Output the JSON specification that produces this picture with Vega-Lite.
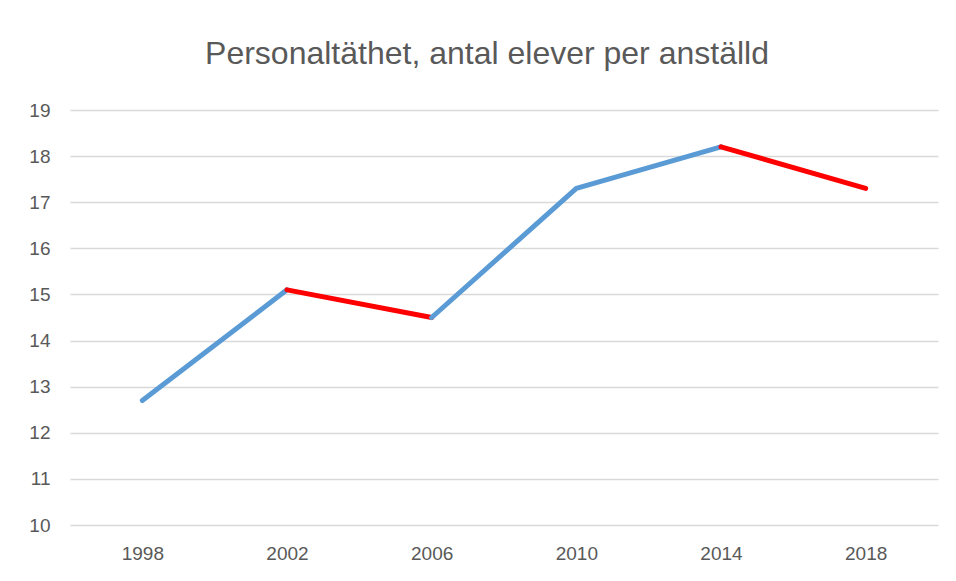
{
  "$schema": "https://vega.github.io/schema/vega-lite/v6.json",
  "width": 868,
  "height": 415,
  "autosize": "none",
  "padding": {"left": 70, "top": 110, "right": 18, "bottom": 56},
  "background": "white",
  "title": {
    "text": "Personaltäthet, antal elever per anställd",
    "font": "Liberation Sans",
    "fontSize": 32,
    "fontWeight": "normal",
    "color": "#595959",
    "anchor": "middle",
    "frame": "group",
    "dx": -17,
    "offset": 30
  },
  "data": {
    "values": [
      {"year": "1998", "value": 12.7, "seg": 1, "kind": "up"},
      {"year": "2002", "value": 15.1, "seg": 1, "kind": "up"},
      {"year": "2002", "value": 15.1, "seg": 2, "kind": "down"},
      {"year": "2006", "value": 14.5, "seg": 2, "kind": "down"},
      {"year": "2006", "value": 14.5, "seg": 3, "kind": "up"},
      {"year": "2010", "value": 17.3, "seg": 3, "kind": "up"},
      {"year": "2014", "value": 18.2, "seg": 3, "kind": "up"},
      {"year": "2014", "value": 18.2, "seg": 4, "kind": "down"},
      {"year": "2018", "value": 17.3, "seg": 4, "kind": "down"}
    ]
  },
  "mark": {"type": "line", "strokeWidth": 5, "strokeCap": "round", "strokeJoin": "round"},
  "encoding": {
    "x": {
      "field": "year",
      "type": "ordinal",
      "scale": {"type": "point", "padding": 0.5},
      "axis": {
        "title": null,
        "labelAngle": 0,
        "grid": false,
        "domain": false,
        "ticks": false,
        "labelPadding": 19,
        "labelFont": "Liberation Sans",
        "labelFontSize": 19,
        "labelColor": "#595959"
      }
    },
    "y": {
      "field": "value",
      "type": "quantitative",
      "scale": {"domain": [10, 19], "nice": false, "zero": false},
      "axis": {
        "title": null,
        "values": [10, 11, 12, 13, 14, 15, 16, 17, 18, 19],
        "grid": true,
        "gridColor": "#d9d9d9",
        "gridWidth": 1.5,
        "domain": false,
        "ticks": false,
        "labelPadding": 20,
        "labelFont": "Liberation Sans",
        "labelFontSize": 19,
        "labelColor": "#595959"
      }
    },
    "detail": {"field": "seg"},
    "color": {
      "field": "kind",
      "type": "nominal",
      "scale": {"domain": ["up", "down"], "range": ["#5B9BD5", "#FF0000"]},
      "legend": null
    },
    "order": {"field": "year"}
  },
  "config": {"view": {"stroke": null}}
}
